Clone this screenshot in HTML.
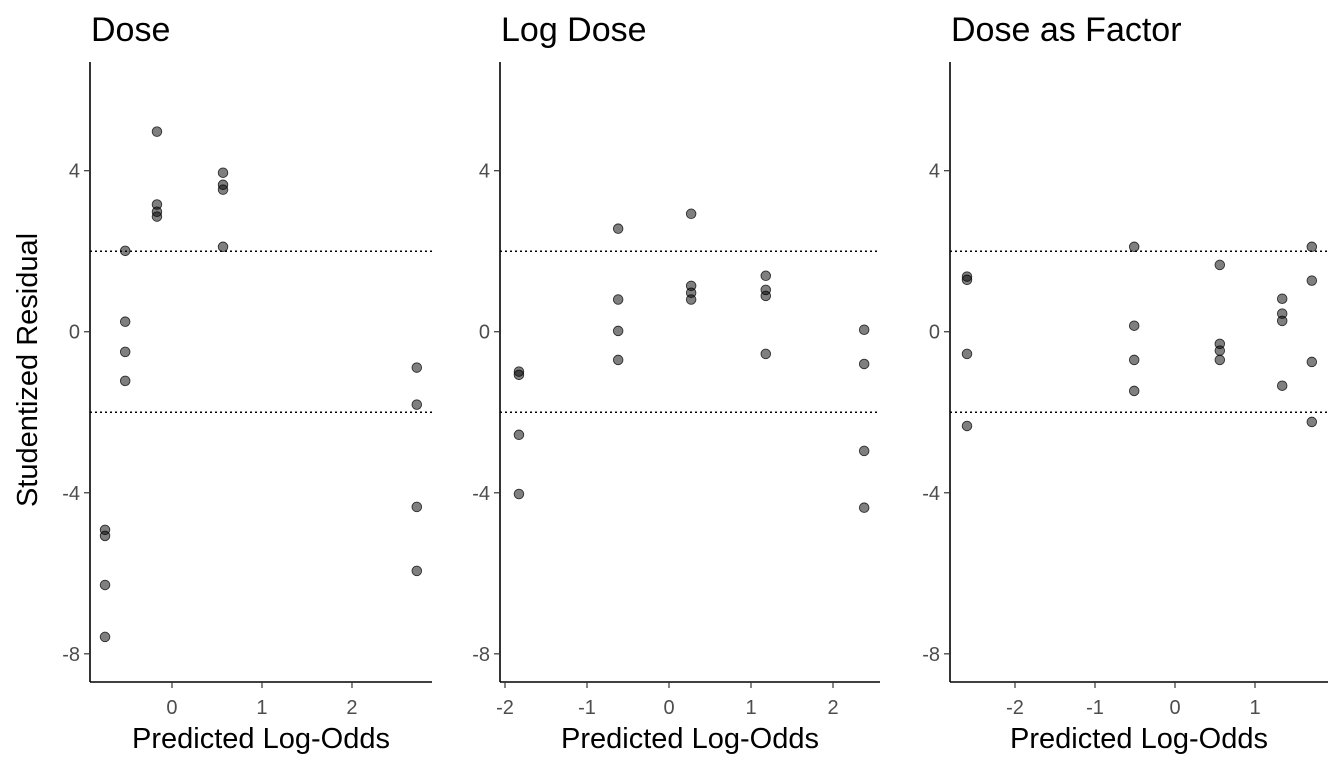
<!DOCTYPE html>
<html><head><meta charset="utf-8"><style>
body{margin:0;background:#fff;}
svg{display:block;font-family:"Liberation Sans",Arial,sans-serif;}
</style></head><body>
<svg id="chart" width="1344" height="768" xmlns="http://www.w3.org/2000/svg">
<text transform="translate(37,370) rotate(-90)" text-anchor="middle" font-size="29" fill="#000">Studentized Residual</text>
</svg>
<script>
const panelTitles = ["Dose", "Log Dose", "Dose as Factor"];
const yTicks = [4, 0, -4, -8];
const xTicks1 = [0, 1, 2];
const xTicks2 = [-2, -1, 0, 1, 2];
const xTicks3 = [-2, -1, 0, 1];
const xVals1 = [-0.744,-0.744,-0.744,-0.744,-0.52,-0.52,-0.52,-0.52,-0.167,-0.167,-0.167,-0.167,0.567,0.567,0.567,0.567,2.72,2.72,2.72,2.72];
const yVals1 = [-4.92,-5.07,-6.29,-7.58,2.01,0.25,-0.5,-1.22,4.97,3.16,2.98,2.86,3.95,3.65,3.53,2.11,-0.89,-1.81,-4.35,-5.94];
const xVals2 = [-1.83,-1.83,-1.83,-1.83,-0.62,-0.62,-0.62,-0.62,0.27,0.27,0.27,0.27,1.18,1.18,1.18,1.18,2.38,2.38,2.38,2.38];
const yVals2 = [-0.99,-1.07,-2.56,-4.03,2.56,0.8,0.02,-0.7,2.93,1.14,0.97,0.8,1.39,1.04,0.89,-0.55,0.05,-0.8,-2.96,-4.37];
const xVals3 = [-2.6,-2.6,-2.6,-2.6,-0.51,-0.51,-0.51,-0.51,0.56,0.56,0.56,0.56,1.34,1.34,1.34,1.34,1.71,1.71,1.71,1.71];
const yVals3 = [1.37,1.29,-0.55,-2.34,2.11,0.15,-0.7,-1.47,1.66,-0.3,-0.47,-0.7,0.82,0.45,0.27,-1.34,2.11,1.27,-0.75,-2.24];
const refLines = [2, -2];

const NS = "http://www.w3.org/2000/svg";
const svg = document.getElementById("chart");
function mk(tag, attrs, parent){const e=document.createElementNS(NS,tag);for(const k in attrs)e.setAttribute(k,attrs[k]);(parent||svg).appendChild(e);return e;}
const yTop=62, yBot=682, yMin=-8.7, yMax=6.7;
const yS = v => yBot - (v - yMin) / (yMax - yMin) * (yBot - yTop);
const panels = [
 {x0:90,x1:432,d0:-0.911,d1:2.889,ticks:xTicks1,xs:xVals1,ys:yVals1},
 {x0:500,x1:880,d0:-2.061,d1:2.573,ticks:xTicks2,xs:xVals2,ys:yVals2},
 {x0:950,x1:1328,d0:-2.8125,d1:1.9125,ticks:xTicks3,xs:xVals3,ys:yVals3}
];
panels.forEach((p,i)=>{
  const xS = v => p.x0 + (v - p.d0)/(p.d1 - p.d0)*(p.x1 - p.x0);
  const g = mk("g",{});
  
  
  const t = mk("text",{x:p.x0+1,y:41,"font-size":"34",fill:"#000"},g);
  t.textContent = panelTitles[i];
  
  
  refLines.forEach(r=>{
    const l = mk("line",{x1:p.x0,x2:p.x1,y1:yS(r),y2:yS(r),stroke:"#000","stroke-width":"1.5","stroke-dasharray":"2,3"},g);
    
    
  });
  const ya = mk("line",{x1:p.x0,x2:p.x0,y1:yTop,y2:yBot,stroke:"#000","stroke-width":"1.6"},g);
  
  
  const xa = mk("line",{x1:p.x0,x2:p.x1,y1:yBot,y2:yBot,stroke:"#000","stroke-width":"1.6"},g);
  
  
  yTicks.forEach(v=>{
    mk("line",{x1:p.x0-6,x2:p.x0,y1:yS(v),y2:yS(v),stroke:"#333","stroke-width":"1.2"},g);
    const tl = mk("text",{x:p.x0-10,y:yS(v)+7,"text-anchor":"end","font-size":"20",fill:"#4d4d4d"},g);
    tl.textContent = v;
    
    
  });
  p.ticks.forEach(v=>{
    mk("line",{x1:xS(v),x2:xS(v),y1:yBot,y2:yBot+6,stroke:"#333","stroke-width":"1.2"},g);
    const tl = mk("text",{x:xS(v),y:714,"text-anchor":"middle","font-size":"20",fill:"#4d4d4d"},g);
    tl.textContent = v;
    
    
  });
  const xt = mk("text",{x:(p.x0+p.x1)/2,y:748,"text-anchor":"middle","font-size":"29",fill:"#000"},g);
  xt.textContent = "Predicted Log-Odds";
  
  
  p.xs.forEach((xv,j)=>{
    const c = mk("circle",{cx:xS(xv),cy:yS(p.ys[j]),r:4.8,fill:"rgba(0,0,0,0.5)",stroke:"rgba(0,0,0,0.75)","stroke-width":"0.9"},g);
    
    
  });
});
</script>
</body></html>
